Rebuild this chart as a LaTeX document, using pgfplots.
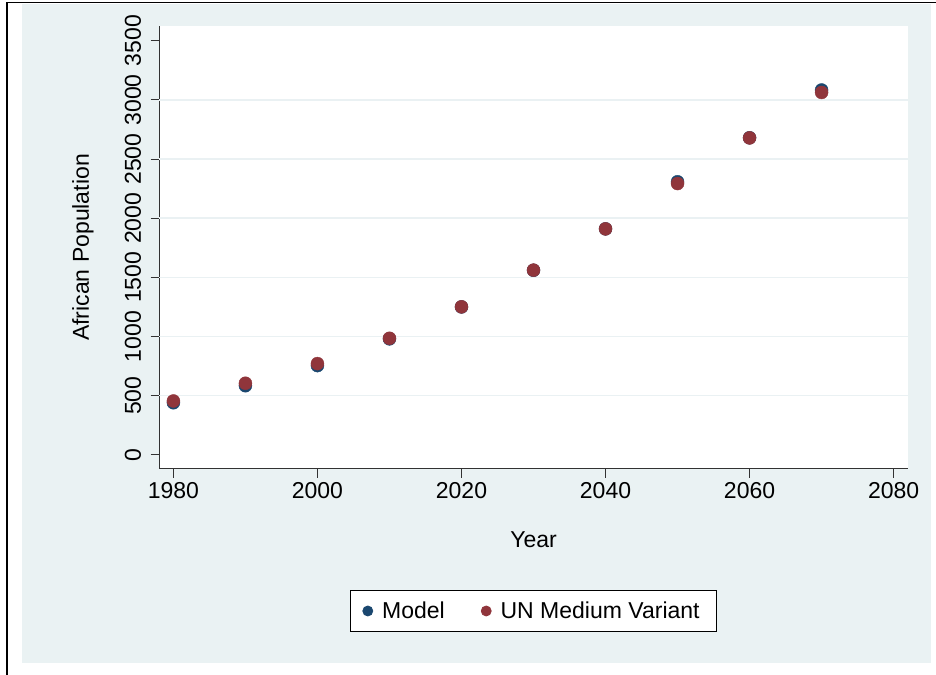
\documentclass[border=0pt]{standalone}
\usepackage{pgfplots}
\pgfplotsset{compat=1.18}
\usepackage{fontspec}
\setmainfont{Liberation Sans}

\definecolor{stbg}{RGB}{234,242,243}
\definecolor{stgrid}{RGB}{234,241,243}
\definecolor{stnavy}{RGB}{26,71,111}
\definecolor{stmaroon}{RGB}{144,53,59}
\definecolor{staxis}{RGB}{50,50,50}

\newcommand{\chartfont}{\fontsize{23bp}{27bp}\selectfont}

\begin{document}
\begin{tikzpicture}
% page frame and graph region
\useasboundingbox (0bp,0bp) rectangle (936bp,675bp);
\fill[stbg] (22bp,12bp) rectangle (931bp,671bp);
\draw[line width=2bp] (7bp,0bp) -- (7bp,672.5bp);
\draw[line width=1.3bp] (6bp,672.5bp) -- (936bp,672.5bp);

\begin{axis}[
  at={(159bp,206bp)}, anchor=south west,
  scale only axis, width=749bp, height=443bp,
  xmin=1978, xmax=2082, ymin=-120, ymax=3625,
  axis background/.style={fill=white},
  axis x line*=bottom, axis y line*=left,
  axis line style={staxis, line width=1bp, -},
  xtick={1980,2000,...,2080},
  ytick={0,500,...,3500},
  tick align=outside, major tick length=8.5bp,
  tick style={staxis, line width=1bp},
  minor tick num=0,
  extra y ticks={500,1000,...,3000},
  extra y tick labels={},
  extra y tick style={grid=major, major tick length=0pt},
  grid style={stgrid, line width=1.6bp},
  /pgf/number format/assume math mode=true,
  /pgf/number format/1000 sep={},
  ticklabel style={font=\chartfont},
  yticklabel style={rotate=90, anchor=south, yshift=6bp},
  xticklabel style={yshift=-1bp},
  xlabel={Year}, ylabel={African Population},
  label style={font=\chartfont},
  xlabel style={at={(axis description cs:0.5,-0.1603)}, anchor=center},
  ylabel style={at={(axis description cs:-0.1015,0.5)}, anchor=center},
  legend columns=2,
  legend style={at={(axis description cs:0.5,-0.3205)}, anchor=center,
    draw=black, fill=white, font=\chartfont, line width=0.8bp,
    inner xsep=12bp, inner ysep=8.5bp,
    nodes={inner xsep=5bp, inner ysep=3bp},
    /tikz/every odd column/.append style={column sep=4bp},
    /tikz/every even column/.append style={column sep=31bp}},
  clip=false,
]
\addplot[only marks, mark=*, mark size=6.5bp,
  mark options={draw=stnavy, fill=stnavy},
  legend image code/.code={\fill[stnavy] (5bp,0bp) circle (5bp);}]
  coordinates {
  (1980,440) (1990,584) (2000,754) (2010,980) (2020,1250)
  (2030,1560) (2040,1910) (2050,2308) (2060,2680) (2070,3084)};
\addlegendentry{Model}
\addplot[only marks, mark=*, mark size=6.5bp,
  mark options={draw=stmaroon, fill=stmaroon},
  legend image code/.code={\fill[stmaroon] (5bp,0bp) circle (5bp);}]
  coordinates {
  (1980,455) (1990,605) (2000,771) (2010,985) (2020,1251)
  (2030,1561) (2040,1910) (2050,2293) (2060,2679) (2070,3063)};
\addlegendentry{UN Medium Variant}
\end{axis}
\end{tikzpicture}
\end{document}
